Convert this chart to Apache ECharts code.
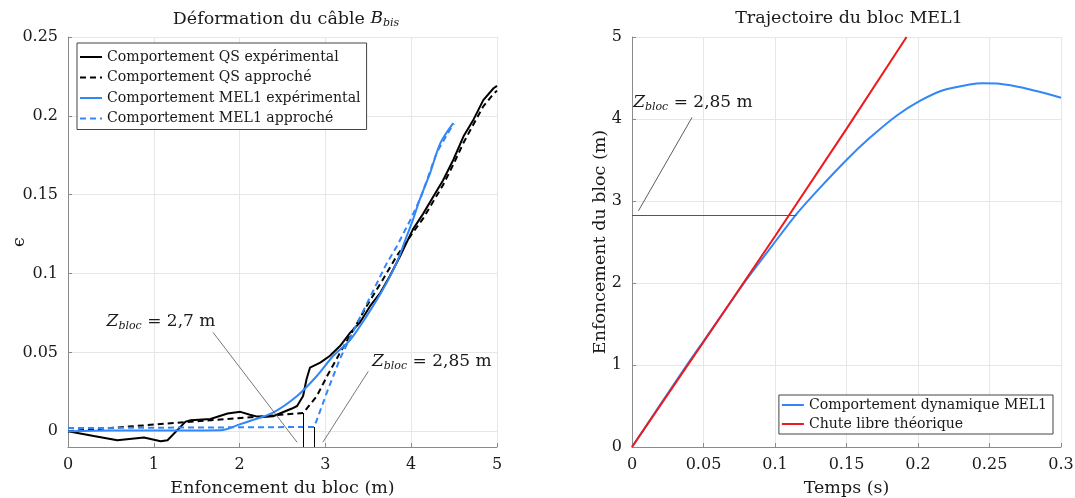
<!DOCTYPE html>
<html><head><meta charset="utf-8">
<script src="https://cdn.jsdelivr.net/npm/echarts@6/dist/echarts.min.js"></script>
<style>html,body{margin:0;padding:0;background:#fff}#c{width:1075px;height:498px}</style>
</head><body><div id="c"></div>
<script>
// ---- Left chart data: Déformation du câble ----
const qsExpX = [0, 0.3, 0.575, 0.885, 1.08, 1.16, 1.37, 1.43, 1.66, 1.86, 2.01, 2.12, 2.24, 2.39, 2.61, 2.67, 2.74, 2.78, 2.82, 2.94, 3.05, 3.17, 3.29, 3.40, 3.52, 3.64, 3.75, 3.87, 4.02, 4.14, 4.26, 4.37, 4.49, 4.61, 4.72, 4.84, 4.96, 5.0];
const qsExpY = [0, -0.003, -0.0057, -0.004, -0.0064, -0.0057, 0.0061, 0.007, 0.0078, 0.0112, 0.0123, 0.0105, 0.0088, 0.0095, 0.0144, 0.016, 0.0223, 0.033, 0.0403, 0.0435, 0.0477, 0.054, 0.0625, 0.0688, 0.0793, 0.0878, 0.0983, 0.111, 0.128, 0.138, 0.149, 0.159, 0.172, 0.187, 0.197, 0.21, 0.2175, 0.219];
const qsAppX = [0, 2.74, 2.90, 3.02, 3.17, 3.33, 3.48, 3.67, 3.83, 4.02, 4.14, 4.26, 4.37, 4.49, 4.61, 4.72, 4.84, 4.96, 5.0];
const qsAppY = [0, 0.0115, 0.0223, 0.035, 0.0498, 0.0646, 0.0793, 0.0962, 0.111, 0.126, 0.135, 0.146, 0.156, 0.169, 0.183, 0.194, 0.206, 0.214, 0.216];
const melExpX = [0, 0.5, 1.0, 1.5, 1.78, 2.01, 2.12, 2.39, 2.67, 2.90, 3.09, 3.29, 3.48, 3.67, 3.83, 3.95, 4.02, 4.10, 4.22, 4.34, 4.49];
const melExpY = [0, 0.0005, 0.0005, 0.0005, 0.0006, 0.0045, 0.0065, 0.0118, 0.0223, 0.035, 0.0477, 0.058, 0.073, 0.0899, 0.1068, 0.124, 0.134, 0.147, 0.1637, 0.1827, 0.1954];
const melAppX = [0, 2.87, 3.02, 3.17, 3.33, 3.52, 3.71, 3.83, 3.99, 4.11, 4.30, 4.46, 4.50];
const melAppY = [0.002, 0.0027, 0.025, 0.046, 0.064, 0.085, 0.106, 0.117, 0.134, 0.148, 0.177, 0.192, 0.195];
const leftYTicks = [0, 0.05, 0.1, 0.15, 0.2, 0.25];

// ---- Right chart data: Trajectoire du bloc ----
const dynT = [0, 0.038, 0.05, 0.08, 0.1, 0.115, 0.1314, 0.1505, 0.1663, 0.185, 0.2013, 0.2175, 0.2362, 0.2455, 0.257, 0.2735, 0.3];
const dynZ = [0, 0.99, 1.29, 2.04, 2.50, 2.84, 3.16, 3.51, 3.77, 4.04, 4.22, 4.35, 4.42, 4.435, 4.43, 4.38, 4.26];
const fallT = [0, 0.05, 0.1, 0.15, 0.192];
const fallZ = [0, 1.28, 2.57, 3.88, 5.0];

// annotations (data coordinates)
const annLeft1 = {text: [1.084, 0.0696], from: [1.69, 0.0627], to: [2.67, -0.007], label: '2,7 m'};
const annLeft2 = {text: [4.24, 0.0443], from: [3.50, 0.038], to: [2.97, -0.007], label: '2,85 m'};
const vLine1 = {x: 2.745, y1: 0.0115, y2: -0.01};
const vLine2 = {x: 2.87, y1: 0.0027, y2: -0.01};
const annRight = {text: [0.0426, 4.20], from: [0.042, 4.02], to: [0.0045, 2.88], label: '2,85 m', hz: 2.83, ht: 0.115};

const zip = (a, b) => a.map((v, i) => [v, b[i]]);
const FONT = 'DejaVu Serif';
const TXT = '#1a1a1a';
const BLUE = '#3386f7';
const RED = '#f01818';
const rich = {
  i: {fontFamily: FONT, fontStyle: 'italic', fontSize: 17, color: TXT},
  s: {fontFamily: FONT, fontStyle: 'italic', fontSize: 11, color: TXT, padding: [9, 0, 0, 0]},
  n: {fontFamily: FONT, fontSize: 17, color: TXT}
};
const richT = {
  i: {fontFamily: FONT, fontStyle: 'italic', fontSize: 17, color: TXT},
  s: {fontFamily: FONT, fontStyle: 'italic', fontSize: 11, color: TXT, padding: [9, 0, 0, 0]}
};
const fmt = v => (Math.abs(v) < 1e-9 ? '0' : String(+v.toFixed(3)));

function axisCommon() {
  return {
    nameMoveOverlap: false,
    axisLine: {show: true, onZero: false, lineStyle: {color: '#8a8a8a', width: 1}},
    axisTick: {show: true, inside: true, length: 4, lineStyle: {color: '#8a8a8a'}},
    splitLine: {show: true, lineStyle: {color: '#e6e6e6', width: 1}},
    axisLabel: {fontFamily: FONT, fontSize: 16, color: TXT, formatter: fmt, margin: 10},
    nameTextStyle: {fontFamily: FONT, fontSize: 17.5, color: TXT}
  };
}
function annMark(a, arrowColor) {
  return {
    markLine: {
      silent: true, symbol: ['none', 'arrow'], symbolSize: [0, 9], animation: false,
      label: {show: false}, lineStyle: {color: arrowColor, width: 0.8, type: 'solid'},
      data: [[{coord: a.from}, {coord: a.to}]]
    },
    markPoint: {
      silent: true, symbol: 'circle', symbolSize: 0, animation: false,
      label: {show: true, position: 'inside', formatter: '{i|Z}{s|bloc}{n| = ' + a.label + '}', rich: rich},
      data: [{coord: a.text}]
    }
  };
}

const chart = echarts.init(document.getElementById('c'));
const l1 = annMark(annLeft1, '#555');
const l2 = annMark(annLeft2, '#555');
const r1 = annMark(annRight, '#333');
const legendCommon = {orient: 'vertical', itemWidth: 22, itemHeight: 14,
  borderColor: '#444', borderWidth: 1, backgroundColor: '#fff',
  itemStyle: {opacity: 0},
  textStyle: {fontFamily: FONT, fontSize: 14.1, color: TXT}};
chart.setOption({
  animation: false,
  backgroundColor: '#fff',
  title: [
    {text: 'Déformation du câble {i|B}{s|bis}', left: 281, top: 4, textAlign: 'center',
     textStyle: {fontFamily: FONT, fontSize: 17.5, fontWeight: 'normal', color: TXT, rich: richT}},
    {text: 'Trajectoire du bloc MEL1', left: 844, top: 4, textAlign: 'center',
     textStyle: {fontFamily: FONT, fontSize: 17.5, fontWeight: 'normal', color: TXT}}
  ],
  legend: [
    Object.assign({}, legendCommon, {left: 77, top: 43, itemGap: 6.5, padding: [7, 6, 4, 2],
     data: ['Comportement QS expérimental', 'Comportement QS approché', 'Comportement MEL1 expérimental', 'Comportement MEL1 approché']}),
    Object.assign({}, legendCommon, {right: 22, top: 395, itemGap: 5, padding: [3, 6, 3, 2],
     data: ['Comportement dynamique MEL1', 'Chute libre théorique']})
  ],
  grid: [
    {left: 68, right: 578, top: 37, bottom: 51, outerBoundsMode: 'none', containLabel: false},
    {left: 632, right: 14, top: 37, bottom: 51, outerBoundsMode: 'none', containLabel: false}
  ],
  xAxis: [
    Object.assign(axisCommon(), {gridIndex: 0, type: 'value', min: 0, max: 5, interval: 1,
      name: 'Enfoncement du bloc (m)', nameLocation: 'middle', nameGap: 32}),
    Object.assign(axisCommon(), {gridIndex: 1, type: 'value', min: 0, max: 0.3, interval: 0.05,
      name: 'Temps (s)', nameLocation: 'middle', nameGap: 32})
  ],
  yAxis: [
    (function () {
      const a = axisCommon();
      a.axisTick.customValues = leftYTicks;
      a.axisLabel.customValues = leftYTicks;
      return Object.assign(a, {gridIndex: 0, type: 'value', min: -0.01, max: 0.25,
        name: 'ϵ', nameLocation: 'middle', nameGap: 40});
    })(),
    Object.assign(axisCommon(), {gridIndex: 1, type: 'value', min: 0, max: 5, interval: 1,
      name: 'Enfoncement du bloc (m)', nameLocation: 'middle', nameGap: 23})
  ],
  series: [
    Object.assign({name: 'Comportement QS expérimental', type: 'line', xAxisIndex: 0, yAxisIndex: 0,
      data: zip(qsExpX, qsExpY), showSymbol: false, symbol: 'none', lineStyle: {color: '#000', width: 2}, itemStyle: {color: '#000'}}, l1),
    {name: 'Comportement QS approché', type: 'line', xAxisIndex: 0, yAxisIndex: 0,
      data: zip(qsAppX, qsAppY), showSymbol: false, symbol: 'none', lineStyle: {color: '#000', width: 2, type: [6, 4]}, itemStyle: {color: '#000'},
      markLine: {silent: true, symbol: 'none', animation: false, label: {show: false}, lineStyle: {color: '#000', width: 1, type: 'solid'},
        data: [[{coord: [vLine1.x, vLine1.y1]}, {coord: [vLine1.x, vLine1.y2]}], [{coord: [vLine2.x, vLine2.y1]}, {coord: [vLine2.x, vLine2.y2]}]]}},
    Object.assign({name: 'Comportement MEL1 expérimental', type: 'line', xAxisIndex: 0, yAxisIndex: 0,
      data: zip(melExpX, melExpY), showSymbol: false, symbol: 'none', smooth: 0.3, lineStyle: {color: BLUE, width: 2}, itemStyle: {color: BLUE}}, l2),
    {name: 'Comportement MEL1 approché', type: 'line', xAxisIndex: 0, yAxisIndex: 0,
      data: zip(melAppX, melAppY), showSymbol: false, symbol: 'none', lineStyle: {color: BLUE, width: 2, type: [6, 4]}, itemStyle: {color: BLUE}},
    Object.assign({name: 'Comportement dynamique MEL1', type: 'line', xAxisIndex: 1, yAxisIndex: 1,
      data: zip(dynT, dynZ), showSymbol: false, symbol: 'none', smooth: 0.25, lineStyle: {color: BLUE, width: 2}, itemStyle: {color: BLUE}}, r1),
    {name: 'Chute libre théorique', type: 'line', xAxisIndex: 1, yAxisIndex: 1,
      data: zip(fallT, fallZ), showSymbol: false, symbol: 'none', lineStyle: {color: RED, width: 2}, itemStyle: {color: RED},
      markLine: {silent: true, symbol: 'none', animation: false, label: {show: false}, lineStyle: {color: '#555', width: 1, type: 'solid'},
        data: [[{coord: [0, annRight.hz]}, {coord: [annRight.ht, annRight.hz]}]]}}
  ]
});
</script></body></html>
